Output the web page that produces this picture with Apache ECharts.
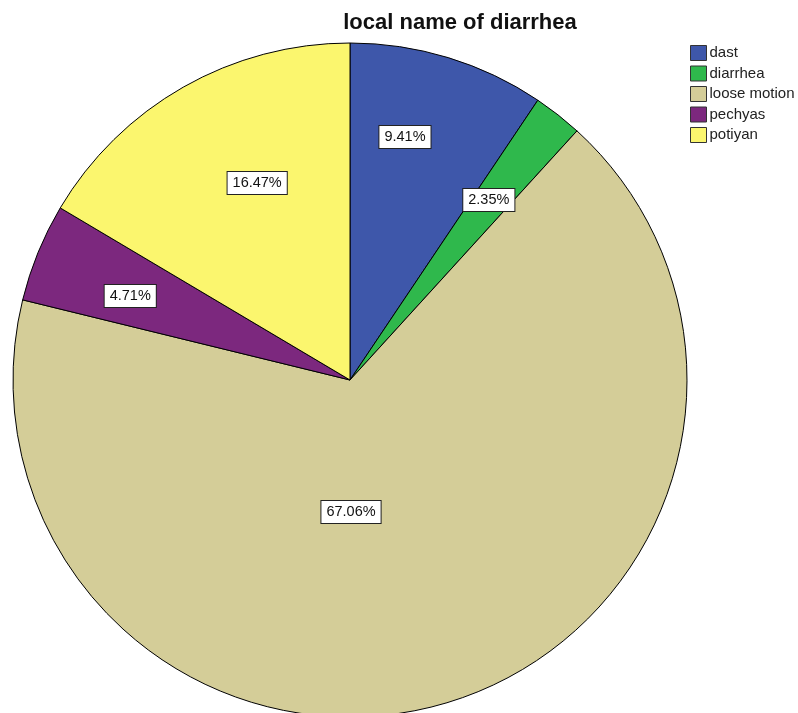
<!DOCTYPE html>
<html>
<head>
<meta charset="utf-8">
<script src="https://cdn.jsdelivr.net/npm/echarts@6/dist/echarts.min.js"></script>
<style>
  html, body { margin: 0; padding: 0; background: #ffffff; }
  #chart { width: 798px; height: 713px; }
</style>
</head>
<body>
<div id="chart"></div>
<script>
// Local names used for diarrhea, percent of respondents
const categories = ['dast', 'diarrhea', 'loose motion', 'pechyas', 'potiyan'];
const percents = [9.41, 2.35, 67.06, 4.71, 16.47];

const sliceColors = ['#3e57aa', '#2fb84c', '#d4cd98', '#7c287e', '#fbf66e'];
// Nudges from the default inside label anchor for each slice
const labelOffsets = [[5, -79], [33, -45], [-49, -32], [-61, -19], [-8, -48]];

const chart = echarts.init(document.getElementById('chart'), null, { renderer: 'canvas' });

chart.setOption({
  animation: false,
  backgroundColor: '#ffffff',
  title: {
    text: 'local name of diarrhea',
    left: 460,
    top: 12,
    padding: 0,
    textAlign: 'center',
    textStyle: {
      fontFamily: 'Liberation Sans, Arial, sans-serif',
      fontSize: 22,
      fontWeight: 'bold',
      color: '#111111'
    }
  },
  legend: {
    orient: 'vertical',
    left: 690,
    top: 45,
    padding: 0,
    itemWidth: 16,
    itemHeight: 15,
    itemGap: 4.5,
    icon: 'rect',
    selectedMode: false,
    textStyle: {
      fontFamily: 'Liberation Sans, Arial, sans-serif',
      fontSize: 15,
      lineHeight: 15,
      color: '#222222',
      padding: [0, 0, 0, -2]
    },
    itemStyle: { borderColor: '#333333', borderWidth: 1 },
    data: categories
  },
  series: [{
    type: 'pie',
    center: [350, 380],
    radius: [0, 337],
    startAngle: 90,
    clockwise: true,
    avoidLabelOverlap: false,
    itemStyle: { borderColor: '#000000', borderWidth: 1 },
    emphasis: { disabled: true },
    labelLine: { show: false },
    label: {
      show: true,
      position: 'inside',
      formatter: p => p.value.toFixed(2) + '%',
      fontFamily: 'Liberation Sans, Arial, sans-serif',
      fontSize: 14.5,
      color: '#111111',
      backgroundColor: '#ffffff',
      borderColor: '#222222',
      borderWidth: 1,
      padding: [4, 5, 3, 5]
    },
    data: categories.map((name, i) => ({
      name,
      value: percents[i],
      itemStyle: { color: sliceColors[i] },
      label: { offset: labelOffsets[i] }
    }))
  }]
});
</script>
</body>
</html>
